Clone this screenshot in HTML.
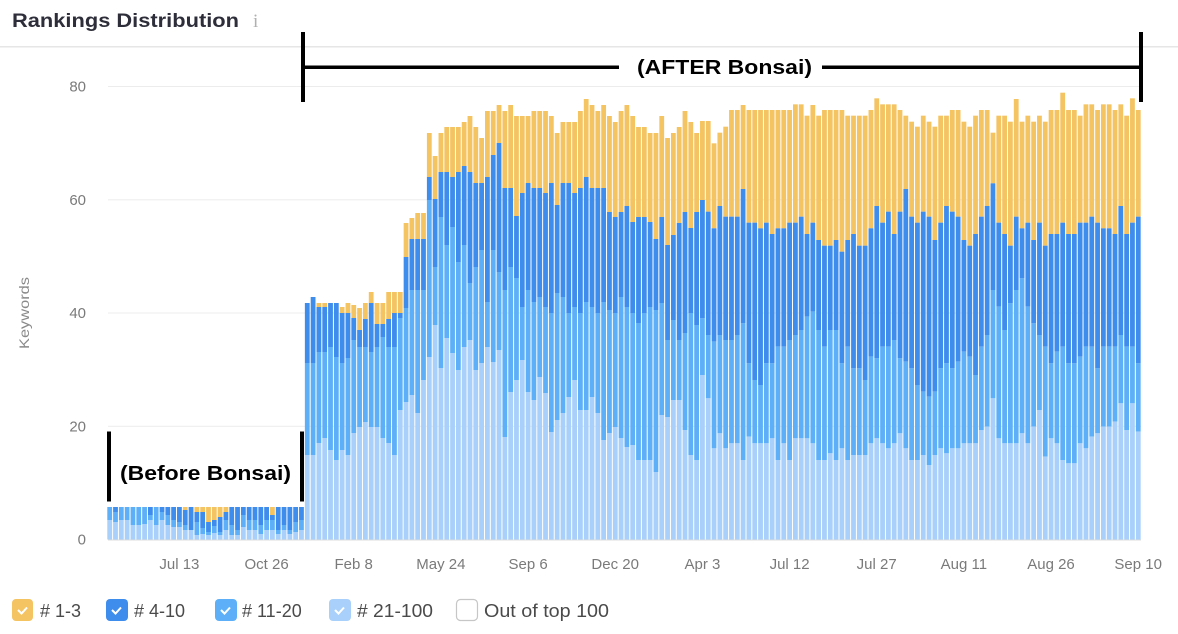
<!DOCTYPE html>
<html>
<head>
<meta charset="utf-8">
<style>
  html,body{margin:0;padding:0;background:#fff;}
  body{width:1178px;height:634px;overflow:hidden;}
  svg{display:block;font-family:"Liberation Sans",Arial,sans-serif;}
</style>
</head>
<body>
<svg id="c" width="1178" height="634" viewBox="0 0 1178 634" xmlns="http://www.w3.org/2000/svg">
  <rect x="0" y="0" width="1178" height="634" fill="#ffffff"/>
  <!-- header -->
  <text x="12" y="27" font-size="19" font-weight="bold" fill="#2e2e3a" textLength="227" lengthAdjust="spacingAndGlyphs">Rankings Distribution</text>
  <text x="253" y="27" font-size="19" fill="#b0b0b0" font-family="Liberation Serif, serif">i</text>
  <rect x="0" y="46" width="1178" height="1.5" fill="#e6e6e6"/>

  <!-- gridlines -->
  <g fill="#ececec">
    <rect x="108" y="86" width="1033" height="1"/>
    <rect x="108" y="199.3" width="1033" height="1"/>
    <rect x="108" y="312.5" width="1033" height="1"/>
    <rect x="108" y="425.8" width="1033" height="1"/>
  </g>

  <!-- y tick labels -->
  <g font-size="15" fill="#7a7a7a" text-anchor="end">
    <text x="86" y="91.5">80</text>
    <text x="86" y="204.8">60</text>
    <text x="86" y="318">40</text>
    <text x="86" y="431.3">20</text>
    <text x="86" y="544.5">0</text>
  </g>
  <text transform="translate(29,313) rotate(-90)" font-size="14" fill="#8a8a8a" text-anchor="middle" textLength="72" lengthAdjust="spacingAndGlyphs">Keywords</text>

  <g id="bars"></g>

  <rect x="108" y="539.5" width="1033" height="1" fill="#dcdcdc"/>

  <!-- x labels -->
  <g font-size="15" fill="#7a7a7a" text-anchor="middle">
    <text x="179.4" y="569">Jul 13</text>
    <text x="266.6" y="569">Oct 26</text>
    <text x="353.7" y="569">Feb 8</text>
    <text x="440.9" y="569">May 24</text>
    <text x="528.1" y="569">Sep 6</text>
    <text x="615.2" y="569">Dec 20</text>
    <text x="702.4" y="569">Apr 3</text>
    <text x="789.6" y="569">Jul 12</text>
    <text x="876.7" y="569">Jul 27</text>
    <text x="963.9" y="569">Aug 11</text>
    <text x="1051" y="569">Aug 26</text>
    <text x="1138.2" y="569">Sep 10</text>
  </g>

  <!-- annotations: AFTER -->
  <rect x="301" y="32" width="4" height="70" fill="#000"/>
  <rect x="1139" y="32" width="4" height="70" fill="#000"/>
  <rect x="303" y="65.5" width="316" height="3.5" fill="#000"/>
  <rect x="822" y="65.5" width="319" height="3.5" fill="#000"/>
  <text x="637" y="74" font-size="20" font-weight="bold" fill="#000" textLength="175" lengthAdjust="spacingAndGlyphs">(AFTER Bonsai)</text>

  <!-- annotations: Before -->
  <rect x="107" y="431.5" width="4" height="70" fill="#000"/>
  <rect x="300" y="431.5" width="4" height="70" fill="#000"/>
  <text x="120" y="480" font-size="20" font-weight="bold" fill="#000" textLength="171" lengthAdjust="spacingAndGlyphs">(Before Bonsai)</text>

  <!-- legend -->
  <g>
    <rect x="12" y="599" width="21" height="22" rx="4" fill="#f5c462"/>
    <path d="M18 610 L21.5 613.5 L27 607.5" stroke="#fff" stroke-width="2" fill="none"/>
    <rect x="106" y="599" width="22" height="22" rx="4" fill="#3e8cec"/>
    <path d="M112 610 L115.5 613.5 L121 607.5" stroke="#fff" stroke-width="2" fill="none"/>
    <rect x="215" y="599" width="22" height="22" rx="4" fill="#5db0f7"/>
    <path d="M221 610 L224.5 613.5 L230 607.5" stroke="#fff" stroke-width="2" fill="none"/>
    <rect x="329" y="599" width="22" height="22" rx="4" fill="#a8d0fa"/>
    <path d="M335 610 L338.5 613.5 L344 607.5" stroke="#fff" stroke-width="2" fill="none"/>
    <rect x="456.5" y="599.5" width="21" height="21" rx="4" fill="#fff" stroke="#c6c6c6" stroke-width="1.2"/>
  </g>
  <g font-size="18" fill="#4a4a4a">
    <text x="40" y="617">#&#160;1-3</text>
    <text x="134" y="617">#&#160;4-10</text>
    <text x="242" y="617">#&#160;11-20</text>
    <text x="357" y="617" textLength="76" lengthAdjust="spacingAndGlyphs">#&#160;21-100</text>
    <text x="484" y="617" textLength="125" lengthAdjust="spacingAndGlyphs">Out of top 100</text>
  </g>
</svg>
<script>
(function(){
  var X0=107.3, P=5.811, W=4.8, BASE=539.5;
  var T=[],D=[],M=[],L=[];
  // before region bars 0..33
  var bD=[507,507,507,507,507,507,507,507,507,507,507,507,507,510,507,512,512,522,520,517,512,507,507,507,507,507,507,507,515,507,507,507,507,507];
  var bM=[507,512,507,507,507,507,507,515,507,512,515,520,522,525,530,522,528,532,526,532,520,525,530,515,520,520,525,520,520,530,525,530,522,520];
  var bL=[520,522,520,520,525,525,524,520,525,520,525,527,527,530,530,535,534,535,533,535,530,535,535,527,530,530,534,530,530,534,530,534,532,530];
  for(var i=0;i<34;i++){T.push(507);D.push(bD[i]);M.push(bM[i]);L.push(bL[i]);}
  // bars 34..101 (y px)
  var mT=[303,297,303,303,303,303,307,303,305,308,303,292,303,303,292,292,292,223,218,213,213,133,156,133,127,127,127,122,116,127,138,111,111,105,111,105,116,116,116,111,111,111,116,133,122,122,122,111,99,105,111,105,116,122,111,105,116,127,127,133,133,116,138,133,127,111,122,133];
  var mD=[303,297,307,307,303,303,313,313,318,330,319,303,324,324,319,313,313,257,239,239,239,177,199,172,172,177,172,166,172,183,183,177,155,143,188,188,216,193,183,188,188,193,183,205,183,183,193,188,177,188,188,188,212,217,212,206,222,217,217,222,239,217,245,235,223,212,228,212];
  var mM=[363,363,352,352,347,357,363,358,340,347,347,352,347,337,347,347,318,308,290,290,290,200,267,217,245,227,262,245,283,267,250,302,250,272,290,267,278,307,290,302,297,307,313,293,297,313,307,313,302,307,313,302,310,313,297,307,313,323,313,307,310,303,340,320,340,333,313,325];
  var mL=[455,455,443,438,450,460,450,455,433,427,422,427,427,438,443,455,410,402,395,413,380,357,325,368,338,353,370,347,340,370,363,347,362,350,437,392,380,360,392,400,377,393,432,420,413,397,380,410,410,397,413,440,433,427,438,447,445,460,460,460,472,415,417,400,400,430,455,460];
  for(i=0;i<mT.length;i++){T.push(mT[i]);D.push(mD[i]);M.push(mM[i]);L.push(mL[i]);}
  // bars 102..177 (zoom coords, y = 90 + z/3)
  var eT=[93,93,160,128,110,60,60,45,60,60,60,60,60,60,60,60,43,43,77,45,77,60,60,60,60,77,77,77,77,60,25,43,43,43,60,77,95,110,77,95,110,77,77,60,60,95,110,77,60,60,128,77,77,95,27,95,77,95,77,95,60,60,8,60,60,77,43,43,60,43,43,60,43,77,25,60];
  var eD=[330,365,415,348,380,380,380,297,398,398,415,398,432,415,415,398,398,380,432,398,450,467,467,450,485,450,432,467,467,415,348,398,365,432,365,297,380,398,365,380,450,398,348,365,380,450,467,432,380,348,280,398,432,467,380,415,398,450,398,467,432,432,398,432,432,398,398,380,398,415,415,432,348,432,398,380];
  var eM=[685,735,755,735,750,750,735,700,820,870,885,820,820,770,770,750,735,720,680,665,720,770,720,720,820,770,835,835,870,800,805,770,770,750,805,815,835,885,905,920,905,835,820,835,815,785,800,855,770,735,600,650,720,640,600,565,650,700,735,770,820,785,770,820,820,800,770,770,835,770,770,770,735,770,770,820];
  var eL=[855,925,1075,1030,1075,1060,1060,1110,1040,1060,1060,1060,1045,1110,1060,1110,1045,1045,1045,1060,1110,1110,1090,1110,1075,1110,1095,1095,1095,1060,1045,1060,1075,1060,1030,1075,1110,1110,1095,1125,1095,1075,1090,1075,1075,1060,1060,1060,1020,1010,925,1045,1060,1060,1060,1030,1060,1010,960,1100,1045,1060,1110,1120,1120,1060,1075,1040,1030,1010,1010,995,940,1020,940,1025];
  function cz(z){return 90+z/3;}
  for(i=0;i<eT.length;i++){T.push(cz(eT[i]));D.push(cz(eD[i]));M.push(cz(eM[i]));L.push(cz(eL[i]));}
  var ns="http://www.w3.org/2000/svg";
  var g=document.getElementById("bars");
  function r(x,y1,y2,c){
    if(y2-y1<=0.01)return;
    var e=document.createElementNS(ns,"rect");
    e.setAttribute("x",x.toFixed(2));
    e.setAttribute("y",y1.toFixed(2));
    e.setAttribute("width",W);
    e.setAttribute("height",(y2-y1).toFixed(2));
    e.setAttribute("fill",c);
    g.appendChild(e);
  }
  for(i=0;i<T.length;i++){
    var x=X0+P*i;
    r(x,T[i],D[i],"#f5c462");
    r(x,D[i],M[i],"#3e8cec");
    r(x,M[i],L[i],"#5db0f7");
    r(x,L[i],BASE,"#a8d0fa");
  }
})();
</script>
</body>
</html>
